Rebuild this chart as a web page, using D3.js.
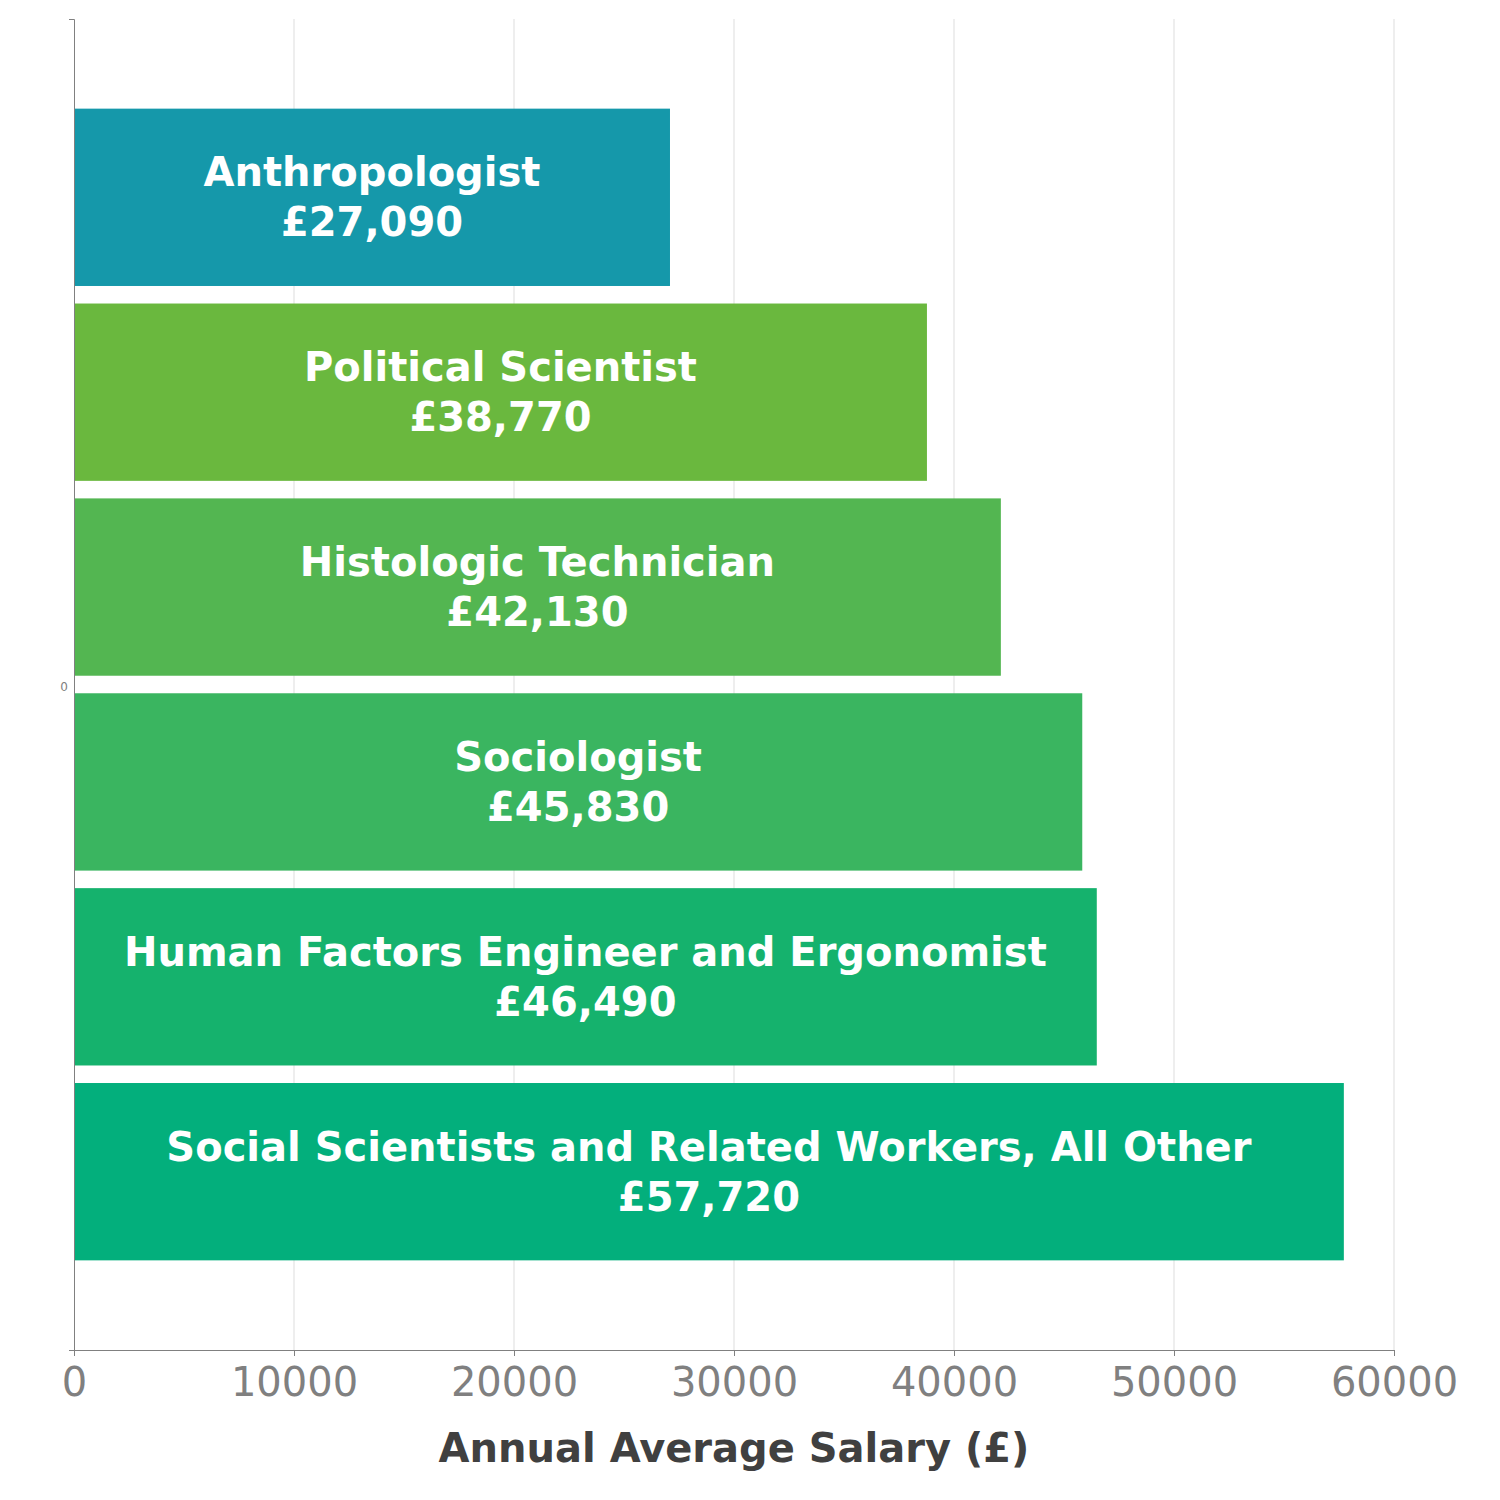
<!DOCTYPE html>
<html><head><meta charset="utf-8">
<script src="https://cdn.jsdelivr.net/npm/d3@7"></script>
<style>body{margin:0;background:#fff}</style>
</head><body><div id="chart"></div>
<script>
const categories = ["Anthropologist","Political Scientist","Histologic Technician","Sociologist","Human Factors Engineer and Ergonomist","Social Scientists and Related Workers, All Other"];
const values = [27090,38770,42130,45830,46490,57720];
const colors = ["#1598AA","#6AB83E","#53B651","#3AB560","#15B26D","#03AF7C"];
const xTicks = [0,10000,20000,30000,40000,50000,60000];
const xTitle = "Annual Average Salary (£)";

const W=1500,H=1500, m={l:74,r:106,t:19,b:150};
const svg=d3.select("#chart").append("svg").attr("width",W).attr("height",H);
const x=d3.scaleLinear().domain([0,60000]).range([m.l,W-m.r]);
const y=d3.scaleBand().domain(categories).range([m.t,H-m.b]).paddingInner(0.09).paddingOuter(0.46);
const font="DejaVu Sans";

// grid
svg.append("g").selectAll("line").data(xTicks.slice(1)).join("line")
  .attr("x1",d=>x(d)).attr("x2",d=>x(d)).attr("y1",m.t).attr("y2",H-m.b)
  .attr("stroke","#dddddd").attr("stroke-width",1);

// bars
svg.append("g").selectAll("rect").data(categories).join("rect")
  .attr("x",x(0)).attr("y",d=>y(d)).attr("width",(d,i)=>x(values[i])-x(0)).attr("height",y.bandwidth())
  .attr("fill",(d,i)=>colors[i]);

// labels
const lab=svg.append("g").selectAll("text").data(categories).join("text")
  .attr("x",(d,i)=>(x(0)+x(values[i]))/2)
  .attr("y",d=>y(d)+y.bandwidth()/2)
  .attr("text-anchor","middle").attr("fill","#fff").attr("font-family",font).attr("font-weight","bold").attr("font-size",40);
lab.append("tspan").attr("x",(d,i)=>(x(0)+x(values[i]))/2).attr("dy",-11).text(d=>d);
lab.append("tspan").attr("x",(d,i)=>(x(0)+x(values[i]))/2).attr("dy",50).text((d,i)=>"£"+d3.format(",")(values[i]));

// x axis
const gx=svg.append("g").attr("transform",`translate(0,${H-m.b})`)
  .call(d3.axisBottom(x).tickValues(xTicks).tickFormat(d3.format("d")).tickSizeOuter(0).tickSize(6).tickPadding(12));
gx.select(".domain").attr("stroke","#808080").attr("d",`M${m.l-4},0.5H${W-m.r}`);
gx.selectAll(".tick line").attr("stroke","#808080");
gx.selectAll(".tick text").attr("fill","#808080").attr("font-family",font).attr("font-size",40);

// y axis
const yAx=d3.scaleBand().domain(["0"]).range([m.t,H-m.b]);
const gy=svg.append("g").attr("transform",`translate(${m.l},0)`)
  .call(d3.axisLeft(yAx).tickSize(0).tickSizeOuter(5).tickPadding(6));
gy.select(".domain").attr("stroke","#808080");
gy.selectAll(".tick text").attr("fill","#808080").attr("font-family",font).attr("font-size",12).attr("dy","0.5em");

svg.append("text").attr("x",(m.l+W-m.r)/2).attr("y",1462).attr("text-anchor","middle")
  .attr("font-family",font).attr("font-weight","bold").attr("font-size",40).attr("fill","#404040").text(xTitle);
</script></body></html>
